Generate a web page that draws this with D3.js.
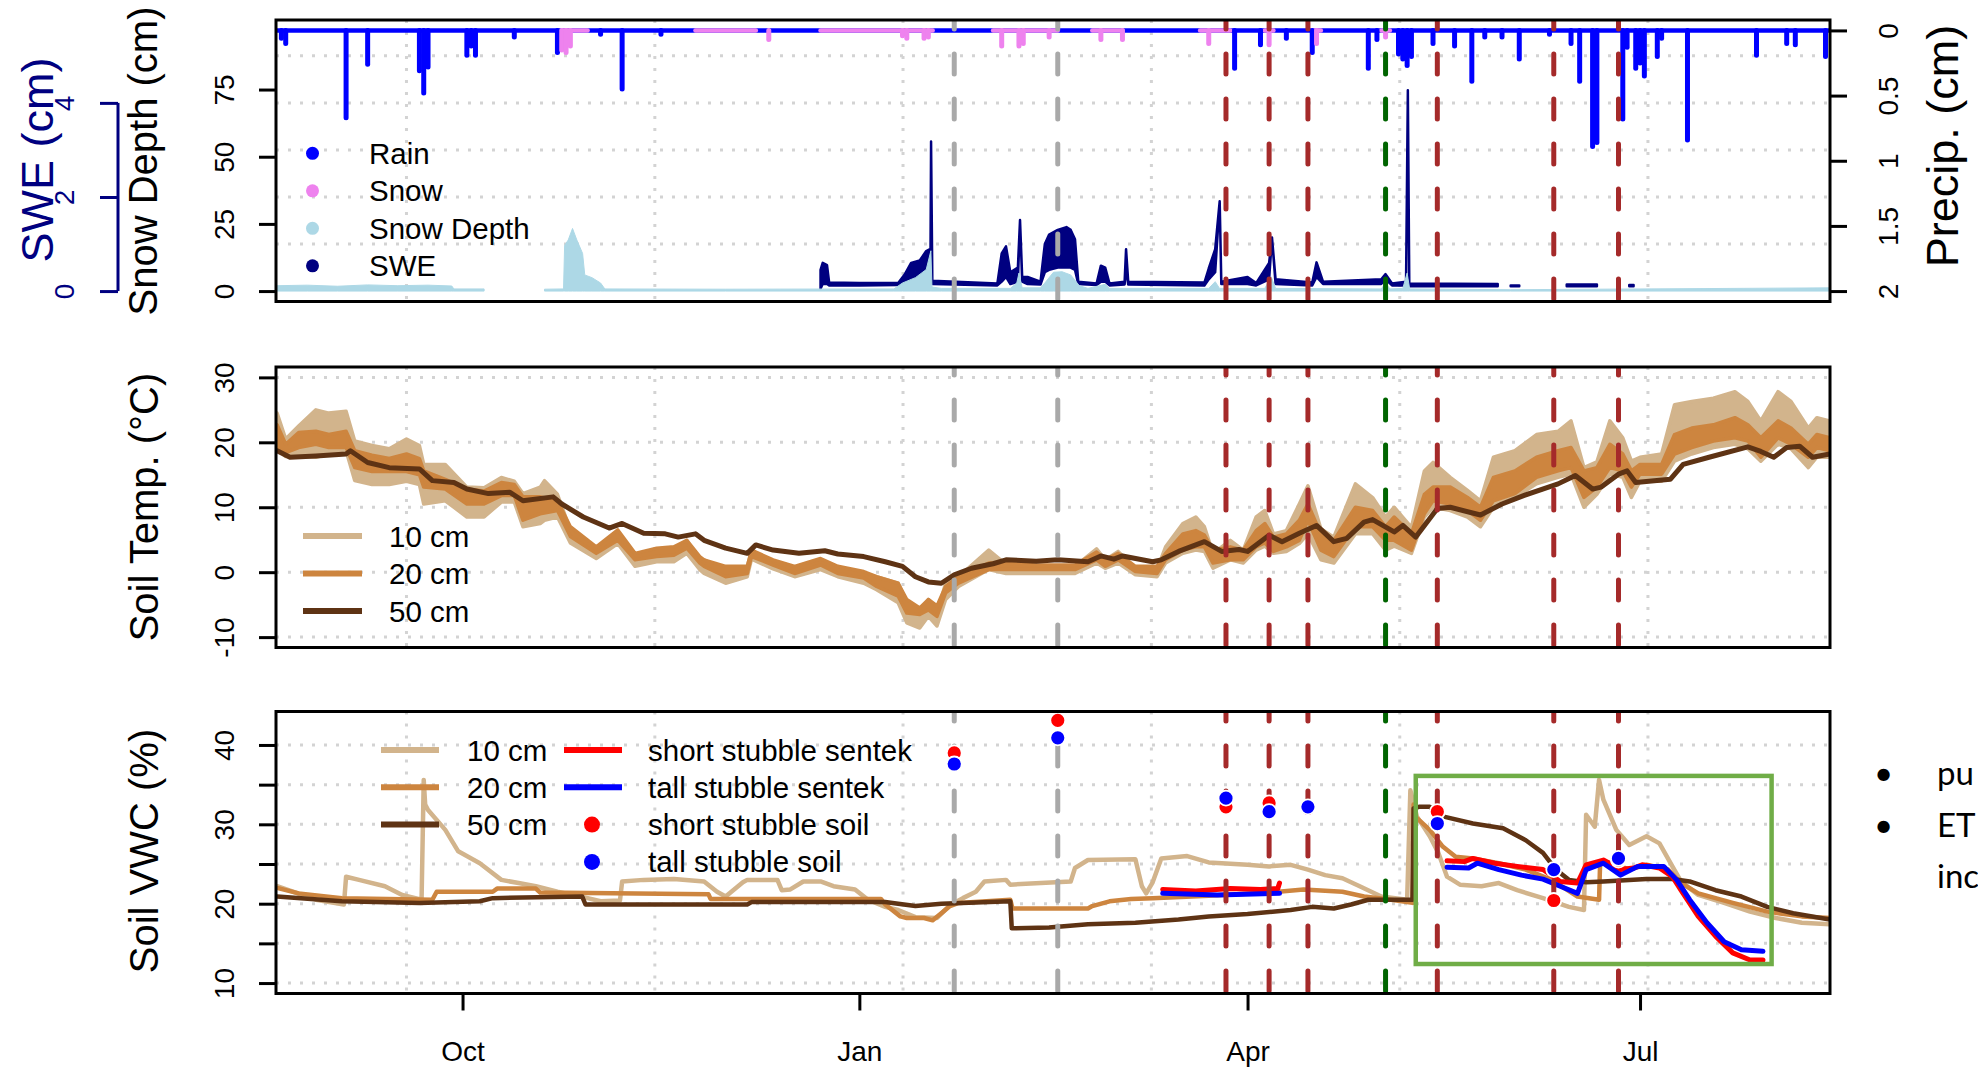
<!DOCTYPE html>
<html>
<head>
<meta charset="utf-8">
<script src="https://cdn.jsdelivr.net/npm/d3@7"></script>
<style>
  html, body { margin: 0; padding: 0; background: #fff; }
  svg { display: block; font-family: "Liberation Sans", Arial, sans-serif; }
</style>
</head>
<body>
<svg id="chart" width="1978" height="1067"></svg>
<script>
// ------------------------------------------------------------------
// Data
// ------------------------------------------------------------------
const xLimits = ["2018-08-18 18", "2019-08-14 01"];
const monthTicks = ["2018-10-01", "2019-01-01", "2019-04-01", "2019-07-01"];
const monthLabels = ["Oct", "Jan", "Apr", "Jul"];
const gridDates = ["2018-09-18 00", "2018-11-14 14", "2019-01-11 03", "2019-03-09 17", "2019-05-06 07", "2019-07-02 20"];

// field visit dates
const winterSampling = ["2019-01-23", "2019-02-16"];
const springSampling = ["2019-03-27", "2019-04-06", "2019-04-15", "2019-05-15", "2019-06-11", "2019-06-26"];
const seeding = ["2019-05-03"];

// axis limits
const snowDepthLimits = [0, 97];
const sweLimits = [0, 5.54];
const precipLimits = [0, 2];
const tempLimits = [-10, 30];
const vwcLimits = [10, 42.9];

const snowDepthTicks = [0, 25, 50, 75];
const sweTicks = [0, 2, 4];
const sweGrid = [1, 2, 3, 4, 5];
const precipTicks = [0, 0.5, 1, 1.5, 2];
const tempTicks = [-10, 0, 10, 20, 30];
const vwcTicks = [10, 15, 20, 25, 30, 35, 40];
const vwcLabelled = [10, 20, 30, 40];

// daily precipitation (cm)
const rain = [
  ["2018-08-20",0.06],["2018-08-21",0.10],["2018-09-04",0.67],["2018-09-09",0.26],["2018-09-21",0.31],
  ["2018-09-22",0.48],["2018-09-23",0.28],["2018-10-02",0.19],["2018-10-03",0.12],["2018-10-04",0.19],
  ["2018-10-13",0.05],["2018-10-23",0.17],["2018-11-02",0.03],["2018-11-07",0.45],["2018-11-16",0.03],
  ["2019-03-29",0.29],["2019-04-04",0.11],["2019-04-10",0.06],["2019-04-16",0.17],["2019-04-29",0.29],
  ["2019-05-01",0.07],["2019-05-06",0.18],["2019-05-07",0.22],["2019-05-08",0.27],["2019-05-09",0.20],
  ["2019-05-14",0.10],["2019-05-19",0.12],["2019-05-23",0.39],["2019-05-26",0.05],["2019-05-30",0.05],
  ["2019-06-03",0.22],["2019-06-10",0.03],["2019-06-15",0.10],["2019-06-17",0.39],["2019-06-20",0.89],
  ["2019-06-21",0.86],["2019-06-27",0.68],["2019-06-28",0.13],["2019-06-30",0.29],["2019-07-01",0.25],
  ["2019-07-02",0.35],["2019-07-05",0.20],["2019-07-06",0.06],["2019-07-12",0.84],["2019-07-28",0.19],
  ["2019-08-04",0.10],["2019-08-06",0.11],["2019-08-13",0.20]
];
const snowfall = [
  ["2018-10-24",0.15],["2018-10-25",0.17],["2018-10-26",0.12],["2018-12-11",0.07],["2019-01-11",0.04],
  ["2019-01-12",0.06],["2019-01-16",0.06],["2019-01-17",0.05],["2019-02-03",0.12],["2019-02-07",0.12],
  ["2019-02-08",0.10],["2019-02-14",0.05],["2019-02-26",0.07],["2019-03-03",0.07],["2019-03-23",0.10],
  ["2019-04-06",0.11],["2019-04-17",0.10],["2019-05-03",0.05]
];
// spells when precipitation fell as snow
const snowSpells = [
  ["2018-10-24","2018-10-30"],["2018-11-24","2018-12-08"],["2018-12-23","2019-01-18"],
  ["2019-02-01","2019-02-16"],["2019-02-24","2019-03-03"],["2019-03-21","2019-03-28"],
  ["2019-04-05","2019-04-07"],["2019-04-16","2019-04-18"],["2019-05-02","2019-05-04"]
];

// snow depth (cm)
const snowDepth = [
  ["2018-08-19",2.0],["2018-08-26",2.2],["2018-09-02",1.8],["2018-09-09",2.3],["2018-09-16",2.0],
  ["2018-09-23",2.2],["2018-09-28 12",1.9],["2018-09-29",0.8],["2018-10-06",0.8],["2018-10-13",null],
  ["2018-10-20",0.7],["2018-10-24 10",0.8],["2018-10-24 16",17],["2018-10-25 12",19],["2018-10-26 12",23.3],
  ["2018-10-27 12",19],["2018-10-28 20",14],["2018-10-29 08",6],["2018-10-31",5],["2018-11-02",3],
  ["2018-11-03",0.8],["2018-12-01",0.7],["2019-01-09",0.8],["2019-01-11",3],["2019-01-14",5],
  ["2019-01-16 12",8],["2019-01-17 14",15],["2019-01-17 20",1.5],["2019-01-20",1.0],["2019-02-05",1.0],
  ["2019-02-06 12",3],["2019-02-07",6.7],["2019-02-07 18",1.2],["2019-02-12",1.2],["2019-02-13",3],
  ["2019-02-15",7.0],["2019-02-17",7.2],["2019-02-19",6.0],["2019-02-21",2.0],["2019-02-23",1.0],
  ["2019-02-27",2.5],["2019-02-28",1.0],["2019-03-23",1.0],["2019-03-24 12",3.5],["2019-03-25 12",1.0],
  ["2019-04-05",1.0],["2019-04-06 12",5.3],["2019-04-07 12",1.0],["2019-05-02",0.8],["2019-05-03",3.0],
  ["2019-05-04",0.8],["2019-05-07",1.0],["2019-05-08",6.7],["2019-05-08 14",0.8],["2019-06-01",0.5],
  ["2019-07-01",0.8],["2019-08-14",1.2]
];

// snow water equivalent (cm): time, daily low, daily high
const swe = [
  ["2018-12-23",0.05,0.45],["2018-12-23 12",0.15,0.6],["2018-12-24 12",0.15,0.55],["2018-12-25",0.12,0.18],
  ["2019-01-01",0.12,0.17],["2019-01-10",0.13,0.17],["2019-01-11 12",0.15,0.35],["2019-01-13",0.2,0.6],
  ["2019-01-15",0.25,0.65],["2019-01-16 12",0.4,0.85],["2019-01-17 12",0.5,0.9],["2019-01-17 15",3.18,3.18],
  ["2019-01-17 22",0.15,0.22],["2019-02-02",0.12,0.16],["2019-02-03",0.2,0.8],["2019-02-04",0.3,0.95],
  ["2019-02-05",0.15,0.4],["2019-02-06 18",0.2,0.5],["2019-02-07 06",1.51,1.51],["2019-02-07 18",0.2,0.3],
  ["2019-02-09",0.15,0.3],["2019-02-12",0.14,0.2],["2019-02-13",0.4,1.0],["2019-02-14",0.45,1.2],
  ["2019-02-16",0.5,1.3],["2019-02-18",0.5,1.36],["2019-02-19",0.5,1.3],["2019-02-20",0.45,1.1],
  ["2019-02-20 18",0.15,0.2],["2019-02-25",0.13,0.16],["2019-02-26",0.2,0.54],["2019-02-27",0.2,0.5],
  ["2019-02-28",0.12,0.16],["2019-03-03 12",0.14,0.2],["2019-03-03 20",0.5,0.89],["2019-03-04 08",0.14,0.2],
  ["2019-03-22",0.12,0.18],["2019-03-23",0.25,0.48],["2019-03-24 12",0.4,0.89],["2019-03-25 13",1.91,1.91],
  ["2019-03-25 22",0.15,0.2],["2019-04-01",0.15,0.3],["2019-04-03",0.12,0.17],["2019-04-06",0.25,0.6],
  ["2019-04-06 16",1.14,1.14],["2019-04-07 12",0.15,0.25],["2019-04-16",0.12,0.18],["2019-04-17",0.3,0.61],
  ["2019-04-18 12",0.15,0.2],["2019-05-02",0.15,0.25],["2019-05-03",0.25,0.36],["2019-05-04 12",0.12,0.16],
  ["2019-05-07 18",0.12,0.2],["2019-05-08 04",4.27,4.27],["2019-05-08 12",0.1,0.16],["2019-05-29",0.1,0.15],
  ["2019-05-30",null,null],["2019-06-01",0.1,0.12],["2019-06-03",0.1,0.12],["2019-06-04",null,null],
  ["2019-06-14",0.1,0.14],["2019-06-21",0.1,0.14],["2019-06-22",null,null],["2019-06-28 12",0.1,0.13],
  ["2019-06-29 12",0.1,0.13]
];

// soil temperature (°C)
const temp10 = [ // time, daily low, daily high
  ["2018-08-19",19.0,24.5],["2018-08-21",17.8,20.5],["2018-08-24",17.9,22.5],["2018-08-28",17.7,25.0],
  ["2018-08-31",18.2,24.5],["2018-09-04",18.7,24.8],["2018-09-06",14.1,20.2],["2018-09-10",13.5,19.5],
  ["2018-09-14",13.5,19.0],["2018-09-18",14.0,20.5],["2018-09-21",13.5,19.5],["2018-09-22",10.5,16.6],
  ["2018-09-27",11.0,16.6],["2018-10-02",8.5,13.1],["2018-10-06",8.5,13.0],["2018-10-10",10.8,14.6],
  ["2018-10-13",10.8,14.0],["2018-10-15",7.0,12.1],["2018-10-19",7.5,13.1],["2018-10-20",8.0,14.1],
  ["2018-10-23",8.5,12.0],["2018-10-26",4.5,6.5],["2018-11-01",2.1,3.4],["2018-11-06",4.4,6.2],
  ["2018-11-10",0.9,2.4],["2018-11-15",1.6,2.9],["2018-11-19",1.6,3.4],["2018-11-22",2.9,4.9],
  ["2018-11-25",0.4,1.9],["2018-11-26",-0.2,1.9],["2018-12-01",-1.7,-0.2],["2018-12-06",-0.7,0.9],
  ["2018-12-07",2.0,3.2],["2018-12-12",0.5,1.7],["2018-12-17",-0.7,0.4],["2018-12-23",0.4,1.9],
  ["2018-12-27",-0.7,0.6],["2019-01-02",-1.7,-0.2],["2019-01-05",-2.7,-0.7],["2019-01-10",-4.7,-1.7],
  ["2019-01-12",-7.8,-4.7],["2019-01-15",-8.6,-6.8],["2019-01-17",-6.8,-4.2],["2019-01-19",-8.3,-6.3],
  ["2019-01-21",-4.2,-1.7],["2019-01-24",-2.2,-0.7],["2019-01-31",0.4,3.4],["2019-02-04",-0.2,1.2],
  ["2019-02-11",-0.2,0.9],["2019-02-20",-0.2,0.9],["2019-02-25",1.4,3.6],["2019-02-27",0.6,1.9],
  ["2019-03-02",1.4,3.2],["2019-03-06",-0.4,0.6],["2019-03-11",-0.7,0.4],["2019-03-13",1.4,3.9],
  ["2019-03-17",2.9,7.5],["2019-03-20",3.4,8.5],["2019-03-22",3.2,7.0],["2019-03-24",0.6,2.9],
  ["2019-03-28",1.9,4.9],["2019-03-31",1.4,3.4],["2019-04-03",3.4,8.5],["2019-04-05",4.0,9.5],
  ["2019-04-07",2.9,5.9],["2019-04-10",3.2,6.4],["2019-04-13",4.4,10.5],["2019-04-15",5.9,13.3],
  ["2019-04-18",1.9,6.7],["2019-04-21",1.4,5.4],["2019-04-26",5.9,13.6],["2019-04-30",5.9,11.5],
  ["2019-05-03",3.4,8.5],["2019-05-05",4.0,10.0],["2019-05-09",2.9,6.9],["2019-05-12",8.5,15.6],
  ["2019-05-14",10.0,16.9],["2019-05-18",9.5,14.6],["2019-05-22",8.5,12.6],["2019-05-25",7.0,11.0],
  ["2019-05-28",10.0,17.7],["2019-06-02",11.5,18.7],["2019-06-07",13.6,21.2],["2019-06-12",14.6,21.7],
  ["2019-06-15",15.1,23.3],["2019-06-18",10.0,16.1],["2019-06-21",12.0,17.0],["2019-06-24",15.1,23.3],
  ["2019-06-27",14.6,20.7],["2019-06-29",11.5,17.1],["2019-07-01",14.0,17.7],["2019-07-06",14.0,18.2],
  ["2019-07-09",17.1,25.8],["2019-07-13",18.2,26.3],["2019-07-18",19.2,26.8],["2019-07-23",19.7,27.8],
  ["2019-07-26",19.0,26.3],["2019-07-29",17.1,23.3],["2019-08-02",19.7,27.8],["2019-08-05",19.0,26.3],
  ["2019-08-09",16.1,22.2],["2019-08-11",17.7,23.8],["2019-08-14",17.7,23.3]
];
const temp20 = [ // time, daily low, daily high
  ["2018-08-19",19.2,22.7],["2018-08-21",18.4,19.7],["2018-08-24",19.2,21.5],["2018-08-28",19.7,21.7],
  ["2018-08-31",19.2,21.2],["2018-09-04",19.2,21.7],["2018-09-06",16.1,18.7],["2018-09-10",15.5,18.0],
  ["2018-09-14",15.5,17.5],["2018-09-18",15.5,18.2],["2018-09-21",15.0,17.5],["2018-09-22",13.1,15.6],
  ["2018-09-27",12.8,14.3],["2018-10-02",10.5,12.8],["2018-10-06",10.5,12.5],["2018-10-10",11.8,13.8],
  ["2018-10-13",11.8,13.5],["2018-10-15",8.0,11.6],["2018-10-19",9.0,11.6],["2018-10-23",9.5,11.0],
  ["2018-10-26",5.5,7.0],["2018-11-01",2.9,3.9],["2018-11-06",4.9,6.5],["2018-11-10",1.9,2.9],
  ["2018-11-15",2.4,3.7],["2018-11-19",2.6,3.9],["2018-11-22",3.7,4.9],["2018-11-25",1.4,2.4],
  ["2018-11-26",0.9,1.9],["2018-12-01",-0.7,0.9],["2018-12-06",-0.2,0.9],["2018-12-07",2.4,3.4],
  ["2018-12-12",1.1,1.9],["2018-12-17",-0.2,0.9],["2018-12-23",1.1,2.1],["2018-12-27",-0.2,0.9],
  ["2019-01-02",-0.9,0.1],["2019-01-05",-2.2,-0.7],["2019-01-10",-3.7,-1.7],["2019-01-12",-6.3,-4.2],
  ["2019-01-15",-6.5,-5.5],["2019-01-17",-5.8,-4.2],["2019-01-19",-6.8,-5.2],["2019-01-21",-3.2,-2.2],
  ["2019-01-24",-1.7,-0.7],["2019-01-31",0.4,1.4],["2019-02-04",0.4,1.4],["2019-02-11",0.4,1.1],
  ["2019-02-20",0.4,1.1],["2019-02-25",1.9,3.1],["2019-02-27",0.9,1.9],["2019-03-02",1.9,2.9],
  ["2019-03-06",0.1,0.9],["2019-03-11",-0.2,0.9],["2019-03-13",1.9,2.9],["2019-03-17",3.4,5.9],
  ["2019-03-20",3.9,6.4],["2019-03-22",3.9,5.7],["2019-03-24",1.4,3.4],["2019-03-28",1.9,3.9],
  ["2019-03-31",1.9,3.4],["2019-04-03",3.9,6.4],["2019-04-05",4.5,7.5],["2019-04-07",3.2,5.4],
  ["2019-04-10",3.9,5.9],["2019-04-13",4.9,8.0],["2019-04-15",8.0,10.5],["2019-04-18",3.4,5.9],
  ["2019-04-21",2.4,4.9],["2019-04-26",7.0,10.0],["2019-04-30",7.0,9.5],["2019-05-03",4.9,7.0],
  ["2019-05-05",4.9,8.5],["2019-05-09",3.4,5.9],["2019-05-12",9.0,12.0],["2019-05-14",11.0,13.1],
  ["2019-05-18",10.5,13.1],["2019-05-22",9.5,11.5],["2019-05-25",8.0,10.0],["2019-05-28",11.0,14.6],
  ["2019-06-02",12.1,15.6],["2019-06-07",14.6,17.7],["2019-06-12",15.6,18.7],["2019-06-15",16.1,19.2],
  ["2019-06-18",11.5,15.6],["2019-06-21",13.1,16.1],["2019-06-24",16.1,19.7],["2019-06-27",15.6,18.2],
  ["2019-06-29",13.1,15.6],["2019-07-01",15.1,16.6],["2019-07-06",15.1,16.6],["2019-07-09",18.2,21.2],
  ["2019-07-13",19.2,22.2],["2019-07-18",20.2,22.7],["2019-07-23",20.7,23.8],["2019-07-26",20.2,22.7],
  ["2019-07-29",17.7,20.7],["2019-08-02",20.7,23.3],["2019-08-05",19.7,22.2],["2019-08-09",17.7,19.7],
  ["2019-08-11",19.2,21.2],["2019-08-14",18.7,20.7]
];
const temp50 = [
  ["2018-08-19",18.7],["2018-08-22",17.7],["2018-08-28",17.9],["2018-09-04",18.2],["2018-09-05",18.7],
  ["2018-09-09",16.9],["2018-09-14",16.1],["2018-09-21",15.9],["2018-09-24",14.1],["2018-09-29",13.8],
  ["2018-10-02",12.8],["2018-10-07",12.1],["2018-10-12",12.3],["2018-10-15",11.0],["2018-10-22",11.6],
  ["2018-10-24",10.5],["2018-10-29",8.5],["2018-11-04",6.8],["2018-11-07",7.5],["2018-11-08",7.2],
  ["2018-11-12",6.0],["2018-11-17",5.9],["2018-11-20",5.4],["2018-11-24",5.9],["2018-11-26",4.9],
  ["2018-12-01",3.7],["2018-12-06",2.9],["2018-12-08",4.2],["2018-12-12",3.4],["2018-12-18",2.9],
  ["2018-12-24",3.3],["2018-12-27",2.8],["2019-01-02",2.4],["2019-01-07",1.6],["2019-01-11",0.9],
  ["2019-01-14",-0.7],["2019-01-17",-1.5],["2019-01-20",-1.7],["2019-01-23",-0.4],["2019-01-27",0.6],
  ["2019-02-01",1.3],["2019-02-04",1.9],["2019-02-11",1.7],["2019-02-16",1.9],["2019-02-23",1.6],
  ["2019-02-26",2.5],["2019-03-01",2.0],["2019-03-03",2.5],["2019-03-10",1.6],["2019-03-12",1.9],
  ["2019-03-16",3.2],["2019-03-22",4.7],["2019-03-26",3.2],["2019-03-30",3.5],["2019-04-01",3.2],
  ["2019-04-06",5.7],["2019-04-09",4.7],["2019-04-13",6.0],["2019-04-17",7.2],["2019-04-21",4.7],
  ["2019-04-24",5.2],["2019-04-28",7.7],["2019-04-30",8.1],["2019-05-05",6.2],["2019-05-07",7.2],
  ["2019-05-10",5.4],["2019-05-15",9.8],["2019-05-18",10.0],["2019-05-25",8.8],["2019-05-30",10.5],
  ["2019-06-04",11.8],["2019-06-12",13.6],["2019-06-16",14.9],["2019-06-20",12.8],["2019-06-22",13.1],
  ["2019-06-26",15.1],["2019-06-28",15.6],["2019-06-30",13.8],["2019-07-08",14.3],["2019-07-11",16.6],
  ["2019-07-17",17.7],["2019-07-26",19.3],["2019-07-29",18.6],["2019-08-01",17.7],["2019-08-04",19.2],
  ["2019-08-07",19.4],["2019-08-10",17.7],["2019-08-14",18.2]
];

// soil volumetric water content (%)
const vwc10 = [
  ["2018-08-19",22.2],["2018-08-28",20.5],["2018-09-03 12",19.9],["2018-09-04",23.4],["2018-09-07",23.0],
  ["2018-09-13",22.2],["2018-09-17",21.1],["2018-09-21 12",20.5],["2018-09-22",35.6],["2018-09-22 08",32.5],
  ["2018-09-23",31.8],["2018-09-27",29.3],["2018-09-30",26.6],["2018-10-05",25.1],["2018-10-10",23.0],
  ["2018-10-14",22.6],["2018-10-18",22.2],["2018-10-23",21.5],["2018-10-30",20.7],["2018-11-02",20.3],
  ["2018-11-06 12",20.4],["2018-11-07",22.8],["2018-11-12",23.0],["2018-11-19",23.1],["2018-11-26",22.8],
  ["2018-11-29",21.5],["2018-12-01",20.9],["2018-12-05",22.7],["2018-12-06",23.0],["2018-12-13",23.0],
  ["2018-12-14",21.7],["2018-12-16",21.8],["2018-12-19",22.8],["2018-12-23",22.8],["2018-12-26",22.2],
  ["2018-12-31",21.8],["2019-01-03",20.5],["2019-01-07",19.6],["2019-01-10",19.2],["2019-01-14",18.3],
  ["2019-01-19",18.2],["2019-01-22",19.8],["2019-01-25",20.7],["2019-01-28",21.5],["2019-01-30",22.8],
  ["2019-02-04",23.0],["2019-02-05",22.4],["2019-02-19",22.8],["2019-02-20",24.5],["2019-02-23",25.5],
  ["2019-03-06",25.6],["2019-03-07 12",22.2],["2019-03-08 12",21.3],["2019-03-10",22.7],["2019-03-12",25.7],
  ["2019-03-18",26.0],["2019-03-23",25.2],["2019-04-01",24.9],["2019-04-06",24.7],["2019-04-11",24.9],
  ["2019-04-15",24.3],["2019-04-19",23.6],["2019-04-23",23.2],["2019-04-27",22.2],["2019-05-02",20.9],
  ["2019-05-08",20.5],["2019-05-08 18",34.3],["2019-05-10 06",31.0],["2019-05-13 06",28.5],["2019-05-15 06",26.4],
  ["2019-05-17 06",23.4],["2019-05-20 06",22.4],["2019-05-25 06",22.2],["2019-05-29 06",22.6],["2019-06-02 12",21.7],
  ["2019-06-08 12",20.7],["2019-06-14 12",19.6],["2019-06-18",19.2],["2019-06-18 12",31.2],["2019-06-20 12",29.7],
  ["2019-06-21 12",35.6],["2019-06-22 12",33.1],["2019-06-25 12",29.3],["2019-06-28 12",27.4],["2019-07-02 12",28.5],
  ["2019-07-05 12",27.6],["2019-07-08 12",24.7],["2019-07-10 12",22.8],["2019-07-14 12",21.1],["2019-07-20 12",20.1],
  ["2019-07-26 12",19.0],["2019-08-01 12",18.2],["2019-08-07 12",17.6],["2019-08-14",17.4]
];
const vwc20 = [
  ["2018-08-19",22.0],["2018-08-24",21.3],["2018-09-03",20.7],["2018-09-24",20.5],["2018-09-25",21.5],
  ["2018-10-08",21.5],["2018-10-09",21.9],["2018-10-18",21.9],["2018-10-19",21.4],["2018-11-27",21.2],
  ["2018-11-27 12",20.6],["2019-01-06",20.6],["2019-01-07",19.9],["2019-01-10 12",18.4],["2019-01-12",18.2],
  ["2019-01-16",18.2],["2019-01-18",17.9],["2019-01-20",18.8],["2019-01-22",19.7],["2019-01-24",20.1],
  ["2019-02-05",20.5],["2019-02-05 12",19.4],["2019-02-23",19.4],["2019-02-24",19.7],["2019-02-28",20.3],
  ["2019-03-05",20.6],["2019-03-10",20.7],["2019-03-23",21.0],["2019-04-06",21.4],["2019-04-14",21.8],
  ["2019-04-23",21.5],["2019-04-28",20.9],["2019-05-03",20.6],["2019-05-09 06",20.1],["2019-05-09 12",32.5],
  ["2019-05-09 20",31.0],["2019-05-13 06",29.3],["2019-05-16 06",27.2],["2019-05-19 06",25.9],["2019-05-23 06",25.7],
  ["2019-05-29 06",25.1],["2019-06-04 12",24.3],["2019-06-10 12",23.0],["2019-06-16 12",20.9],["2019-06-21 12",20.5],
  ["2019-06-21 18",25.3],["2019-06-24 12",25.1],["2019-06-28 12",24.3],["2019-07-02 12",24.9],["2019-07-07 12",24.3],
  ["2019-07-10 12",22.6],["2019-07-14 12",21.3],["2019-07-22 12",20.1],["2019-07-30 12",19.0],["2019-08-07 12",18.4],
  ["2019-08-14",18.2]
];
const vwc50 = [
  ["2018-08-19",20.9],["2018-09-03",20.3],["2018-09-21",20.1],["2018-10-05",20.3],["2018-10-08",20.7],
  ["2018-10-28 18",20.9],["2018-10-29 12",19.9],["2018-12-06",19.9],["2018-12-07",20.2],["2019-01-07",20.2],
  ["2019-01-10",20.0],["2019-01-14",19.7],["2019-01-20",20.0],["2019-02-05",20.3],["2019-02-05 08",16.9],
  ["2019-02-14",17.0],["2019-02-23",17.4],["2019-03-06",17.6],["2019-03-16",18.0],["2019-03-23",18.4],
  ["2019-04-01",18.7],["2019-04-11",19.2],["2019-04-16",19.6],["2019-04-21",19.4],["2019-04-25",19.9],
  ["2019-04-29",20.5],["2019-05-09 06",20.5],["2019-05-09 12",32.0],["2019-05-10 18",32.2],["2019-05-13 06",32.2],
  ["2019-05-16 06",31.0],["2019-05-23 06",30.1],["2019-05-30 06",29.5],["2019-06-04 12",28.0],["2019-06-08 12",26.4],
  ["2019-06-11 12",24.3],["2019-06-14 12",23.0],["2019-06-18 12",22.7],["2019-06-22 12",22.8],["2019-07-02 12",23.1],
  ["2019-07-08 12",23.1],["2019-07-12 12",22.8],["2019-07-18 12",21.7],["2019-07-24 12",20.9],["2019-07-30 12",19.6],
  ["2019-08-05 12",18.8],["2019-08-14",18.0]
];
const sentekShort = [
  ["2019-03-12 08",21.8],["2019-03-20",21.6],["2019-03-28",21.9],["2019-04-04",21.8],["2019-04-08",21.9],
  ["2019-04-08 10",22.6],["2019-04-20",null],
  ["2019-05-17 06",25.4],["2019-05-21 06",25.3],["2019-05-23 06",25.7],["2019-05-28 06",25.1],["2019-06-02 12",24.7],
  ["2019-06-08 12",24.3],["2019-06-12 12",22.8],["2019-06-16 12",22.6],["2019-06-18 12",24.9],["2019-06-22 12",25.5],
  ["2019-06-24 12",24.9],["2019-06-26 12",24.3],["2019-06-29 12",24.5],["2019-07-01 12",24.9],["2019-07-05 12",24.5],
  ["2019-07-08 12",23.4],["2019-07-10 12",21.7],["2019-07-14 12",18.4],["2019-07-18 12",15.9],["2019-07-22 12",13.8],
  ["2019-07-26 12",12.9],["2019-07-29 12",12.9]
];
const sentekTall = [
  ["2019-03-12 08",21.3],["2019-03-25",21.1],["2019-04-08 10",21.3],["2019-04-20",null],
  ["2019-05-17 06",24.6],["2019-05-22 06",24.5],["2019-05-24 06",25.1],["2019-05-29 06",24.3],["2019-06-03 12",23.6],
  ["2019-06-08 12",23.1],["2019-06-12 12",22.2],["2019-06-16 12",21.3],["2019-06-18 12",24.3],["2019-06-22 12",25.1],
  ["2019-06-26 12",23.6],["2019-06-30 12",24.7],["2019-07-06 12",24.7],["2019-07-09 12",23.0],["2019-07-12 12",20.5],
  ["2019-07-16 12",17.6],["2019-07-20 12",15.2],["2019-07-24 12",14.2],["2019-07-29 12",14.0]
];
// gravimetric samples (%)
const soilShort = [
  ["2019-01-23",39.0],["2019-02-16",43.1],["2019-03-27",32.2],["2019-04-06",32.7],
  ["2019-04-15",32.0],["2019-05-15",31.6],["2019-06-11",20.4],["2019-06-26",25.5]
];
const soilTall = [
  ["2019-01-23",37.6],["2019-02-16",40.9],["2019-03-27",33.3],["2019-04-06",31.6],
  ["2019-04-15",32.2],["2019-05-15",30.1],["2019-06-11",24.3],["2019-06-26",25.7]
];
// highlighted window on the moisture panel
const focusDates = ["2019-05-10", "2019-07-31 12"];
const focusRange = [12.4, 36.1];

const topLegend = ["Rain", "Snow", "Snow Depth", "SWE"];
const depthLegend = ["10 cm", "20 cm", "50 cm"];
const probeLegend = ["short stubble sentek", "tall stubble sentek", "short stubble soil", "tall stubble soil"];
const sideNotes = [["•", "pu"], ["•", "ET"], ["", "inc"]];

// ------------------------------------------------------------------
// Drawing
// ------------------------------------------------------------------
const parseDay = d3.utcParse("%Y-%m-%d"), parseHour = d3.utcParse("%Y-%m-%d %H");
const parse = s => parseDay(s) || parseHour(s);
const rpad = ([a, b]) => [a - 0.04 * (b - a), b + 0.04 * (b - a)];
const plain = d => String(d);   // R-style labels: ASCII minus, no trailing zeros
const FONT = '"Liberation Sans", Arial, sans-serif';

const L = 276, R = 1830;
const P1 = {top: 20, bottom: 301.5}, P2 = {top: 367, bottom: 647.5}, P3 = {top: 711.5, bottom: 993.5};

const COL = {
  rain: "#0000ff", snow: "#ee82ee", depth: "#add8e6", swe: "#000080",
  d10: "#d2b48c", d20: "#cd853f", d50: "#5e3314", short: "#ff0000", tall: "#0000ff",
  grid: "#d3d3d3", winter: "#a9a9a9", spring: "#a52a2a", seed: "#006400", focus: "#70ad47"
};

const x = d3.scaleUtc().domain(xLimits.map(parse)).range([L, R]);
const ySnow = d3.scaleLinear().domain(rpad(snowDepthLimits)).range([P1.bottom, P1.top]);
const ySwe = d3.scaleLinear().domain(rpad(sweLimits)).range([P1.bottom, P1.top]);
const yPrecip = d3.scaleLinear().domain(rpad(precipLimits)).range([P1.top, P1.bottom]);
const yTemp = d3.scaleLinear().domain(rpad(tempLimits)).range([P2.bottom, P2.top]);
const yVwc = d3.scaleLinear().domain(rpad(vwcLimits)).range([P3.bottom, P3.top]);

const svg = d3.select("#chart");
const defs = svg.append("defs");
[P1, P2, P3].forEach((P, i) => defs.append("clipPath").attr("id", "clip" + i)
  .append("rect").attr("x", L).attr("y", P.top).attr("width", R - L).attr("height", P.bottom - P.top));

const X = d => x(parse(d[0]));

function grid(P, yScale, levels) {
  const g = svg.append("g").attr("stroke", COL.grid).attr("stroke-width", 3).attr("stroke-dasharray", "3 9");
  g.selectAll(null).data(gridDates).join("line")
    .attr("x1", d => x(parse(d))).attr("x2", d => x(parse(d))).attr("y1", P.top).attr("y2", P.bottom);
  g.selectAll(null).data(levels).join("line")
    .attr("x1", L).attr("x2", R).attr("y1", d => yScale(d)).attr("y2", d => yScale(d));
}

function markers(P, i) {
  const g = svg.append("g").attr("clip-path", `url(#clip${i})`)
    .attr("stroke-width", 5).attr("stroke-linecap", "round").attr("stroke-dasharray", "20 25");
  [[winterSampling, COL.winter], [springSampling, COL.spring], [seeding, COL.seed]].forEach(([dates, c]) =>
    g.selectAll(null).data(dates).join("line")
      .attr("x1", d => x(parse(d))).attr("x2", d => x(parse(d)))
      .attr("y1", P.bottom - 2.5).attr("y2", P.top).attr("stroke", c));
}

function frame(P) {
  svg.append("rect").attr("x", L).attr("y", P.top).attr("width", R - L).attr("height", P.bottom - P.top)
    .attr("fill", "none").attr("stroke", "#000").attr("stroke-width", 3);
}

function styleAxis(g, color, offset, size) {
  g.attr("font-family", FONT).attr("font-size", size);
  g.select(".domain").remove();
  g.selectAll(".tick line").attr("stroke", color).attr("stroke-width", 3);
  g.selectAll(".tick text").attr("fill", color).attr("transform", "rotate(-90)")
    .attr("x", 0).attr("y", offset).attr("dy", null).attr("text-anchor", "middle");
}

function band(data, yS, color, sw, clip) {
  const area = d3.area().defined(d => d[1] != null)
    .x(X).y0(d => yS(d[1])).y1(d => yS(d[2]));
  svg.append("path").datum(data).attr("clip-path", `url(#${clip})`)
    .attr("d", area).attr("fill", color).attr("stroke", color).attr("stroke-width", sw)
    .attr("stroke-linejoin", "round");
}

function line(data, yS, color, sw, clip) {
  const ln = d3.line().defined(d => d[1] != null).x(X).y(d => yS(d[1]));
  svg.append("path").datum(data).attr("clip-path", `url(#${clip})`)
    .attr("d", ln).attr("fill", "none").attr("stroke", color).attr("stroke-width", sw)
    .attr("stroke-linejoin", "round").attr("stroke-linecap", "round");
}

// ---------------- panel 1: precipitation, snow ----------------
grid(P1, ySwe, sweGrid);
band(swe, ySwe, COL.swe, 2.5, "clip0");
svg.append("path").datum(snowDepth).attr("clip-path", "url(#clip0)")
  .attr("d", d3.area().defined(d => d[1] != null).x(X).y0(ySnow(0)).y1(d => ySnow(d[1])))
  .attr("fill", COL.depth).attr("stroke", COL.depth).attr("stroke-width", 1);

const pg = svg.append("g").attr("clip-path", "url(#clip0)").attr("stroke-linecap", "round");
pg.append("line").attr("x1", x(parse(rain[0][0])) - 12).attr("x2", R)
  .attr("y1", yPrecip(0)).attr("y2", yPrecip(0)).attr("stroke", COL.rain).attr("stroke-width", 4.5);
pg.selectAll(null).data(snowSpells).join("line")
  .attr("x1", d => x(parse(d[0]))).attr("x2", d => x(parse(d[1])))
  .attr("y1", yPrecip(0)).attr("y2", yPrecip(0)).attr("stroke", COL.snow).attr("stroke-width", 4.5);
pg.selectAll(null).data(rain).join("line")
  .attr("x1", X).attr("x2", X).attr("y1", yPrecip(0)).attr("y2", d => yPrecip(d[1]))
  .attr("stroke", COL.rain).attr("stroke-width", 5);
pg.selectAll(null).data(snowfall).join("line")
  .attr("x1", X).attr("x2", X).attr("y1", yPrecip(0)).attr("y2", d => yPrecip(d[1]))
  .attr("stroke", COL.snow).attr("stroke-width", 5);
markers(P1, 0);
frame(P1);

// left: snow depth axis
styleAxis(svg.append("g").attr("transform", `translate(${L},0)`)
  .call(d3.axisLeft(ySnow).tickValues(snowDepthTicks).tickSize(17).tickFormat(plain)), "#000", -42, 28);
// far left: SWE axis
const sweAxis = svg.append("g").attr("transform", "translate(118,0)")
  .call(d3.axisLeft(ySwe).tickValues(sweTicks).tickSize(18).tickFormat(plain));
styleAxis(sweAxis, COL.swe, -44, 28);
sweAxis.append("line").attr("x1", 0).attr("x2", 0)
  .attr("y1", ySwe(sweTicks[0])).attr("y2", ySwe(sweTicks[sweTicks.length - 1]))
  .attr("stroke", COL.swe).attr("stroke-width", 3);
// right: precipitation axis
styleAxis(svg.append("g").attr("transform", `translate(${R},0)`)
  .call(d3.axisRight(yPrecip).tickValues(precipTicks).tickSize(17).tickFormat(plain)), "#000", 68, 28);

function vtitle(txt, cx, cy, size, color) {
  svg.append("text").attr("transform", `translate(${cx},${cy}) rotate(-90)`)
    .attr("text-anchor", "middle").attr("font-size", size).attr("fill", color).text(txt);
}
vtitle("Snow Depth (cm)", 157, 161, 40, "#000");
vtitle("SWE (cm)", 53, 160, 45, COL.swe);
vtitle("Precip. (cm)", 1958, 146, 45, "#000");

const lg1 = svg.append("g").attr("font-size", 29.5);
[COL.rain, COL.snow, COL.depth, COL.swe].forEach((c, i) => {
  const y = 153.3 + i * 37.5;
  lg1.append("circle").attr("cx", 312.5).attr("cy", y).attr("r", 6.5).attr("fill", c);
  lg1.append("text").attr("x", 369).attr("y", y).attr("dominant-baseline", "central").text(topLegend[i]);
});

// ---------------- panel 2: soil temperature ----------------
grid(P2, yTemp, tempTicks);
band(temp10, yTemp, COL.d10, 3.5, "clip1");
band(temp20, yTemp, COL.d20, 3.5, "clip1");
line(temp50, yTemp, COL.d50, 5, "clip1");
markers(P2, 1);
frame(P2);
styleAxis(svg.append("g").attr("transform", `translate(${L},0)`)
  .call(d3.axisLeft(yTemp).tickValues(tempTicks).tickSize(17).tickFormat(plain)), "#000", -42, 28);
vtitle("Soil Temp. (°C)", 158, 507, 40, "#000");

const lg2 = svg.append("g").attr("font-size", 29.5);
[COL.d10, COL.d20, COL.d50].forEach((c, i) => {
  const y = 536 + i * 37.5;
  lg2.append("line").attr("x1", 303).attr("x2", 362).attr("y1", y).attr("y2", y)
    .attr("stroke", c).attr("stroke-width", 6);
  lg2.append("text").attr("x", 389).attr("y", y).attr("dominant-baseline", "central").text(depthLegend[i]);
});

// ---------------- panel 3: soil moisture ----------------
grid(P3, yVwc, vwcTicks);
line(vwc10, yVwc, COL.d10, 4.5, "clip2");
line(vwc20, yVwc, COL.d20, 4.5, "clip2");
line(vwc50, yVwc, COL.d50, 4.5, "clip2");
line(sentekShort, yVwc, COL.short, 5, "clip2");
line(sentekTall, yVwc, COL.tall, 5, "clip2");
markers(P3, 2);
[[soilShort, COL.short], [soilTall, COL.tall]].forEach(([data, c]) =>
  svg.append("g").selectAll(null).data(data).join("circle")
    .attr("cx", X).attr("cy", d => yVwc(d[1])).attr("r", 7.5)
    .attr("fill", c).attr("stroke", "#fff").attr("stroke-width", 1.8));
svg.append("rect")
  .attr("x", x(parse(focusDates[0]))).attr("y", yVwc(focusRange[1]))
  .attr("width", x(parse(focusDates[1])) - x(parse(focusDates[0])))
  .attr("height", yVwc(focusRange[0]) - yVwc(focusRange[1]))
  .attr("fill", "none").attr("stroke", COL.focus).attr("stroke-width", 4.5);
frame(P3);
styleAxis(svg.append("g").attr("transform", `translate(${L},0)`)
  .call(d3.axisLeft(yVwc).tickValues(vwcTicks).tickSize(17)
    .tickFormat(d => vwcLabelled.includes(d) ? plain(d) : "")), "#000", -42, 28);
vtitle("Soil VWC (%)", 158, 851, 40, "#000");

const xAxis = svg.append("g").attr("transform", `translate(0,${P3.bottom})`)
  .call(d3.axisBottom(x).tickValues(monthTicks.map(parse)).tickSize(17).tickFormat((d, i) => monthLabels[i]));
xAxis.attr("font-family", FONT).attr("font-size", 28);
xAxis.select(".domain").remove();
xAxis.selectAll(".tick line").attr("stroke", "#000").attr("stroke-width", 3);
xAxis.selectAll(".tick text").attr("fill", "#000").attr("y", 67.5).attr("dy", null);

const lg3 = svg.append("g").attr("font-size", 29.5);
[COL.d10, COL.d20, COL.d50].forEach((c, i) => {
  const y = 750 + i * 37.3;
  lg3.append("line").attr("x1", 381).attr("x2", 439).attr("y1", y).attr("y2", y)
    .attr("stroke", c).attr("stroke-width", 6);
  lg3.append("text").attr("x", 467).attr("y", y).attr("dominant-baseline", "central").text(depthLegend[i]);
});
[COL.short, COL.tall, COL.short, COL.tall].forEach((c, i) => {
  const y = 750 + i * 37.3;
  if (i < 2) lg3.append("line").attr("x1", 564).attr("x2", 622).attr("y1", y).attr("y2", y)
    .attr("stroke", c).attr("stroke-width", 6);
  else lg3.append("circle").attr("cx", 592).attr("cy", y).attr("r", 8).attr("fill", c);
  lg3.append("text").attr("x", 648).attr("y", y).attr("dominant-baseline", "central").text(probeLegend[i]);
});

// ---------------- side notes ----------------
const notes = svg.append("g").attr("font-family", "Lato, 'Open Sans', sans-serif").attr("font-size", 33).attr("fill", "#000");
sideNotes.forEach(([b, t], i) => {
  const y = 785 + i * 51.5;
  if (b) notes.append("text").attr("x", 1883.5).attr("y", y).attr("text-anchor", "middle").text(b);
  notes.append("text").attr("x", 1937).attr("y", y).text(t);
});
</script>
</body>
</html>
